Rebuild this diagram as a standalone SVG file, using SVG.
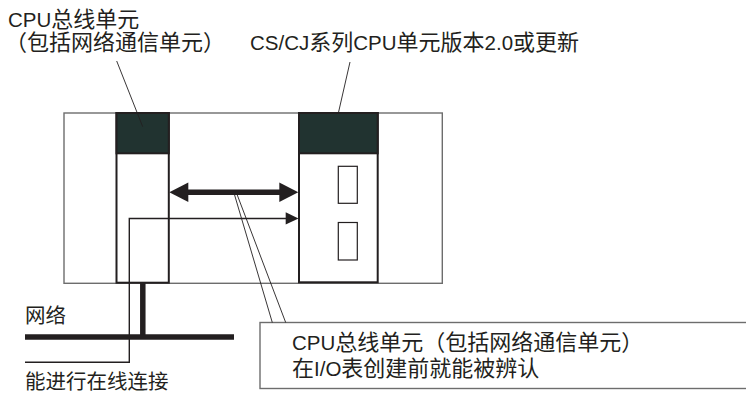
<svg xmlns="http://www.w3.org/2000/svg" width="746" height="393" viewBox="0 0 746 393">
<defs>
<style>
text{font-family:"Liberation Sans","Noto Sans CJK SC",sans-serif;font-size:20.5px;fill:#231f20}
.cj{font-size:22px}
.rack{fill:#fff;stroke:#6d6d6d;stroke-width:1.4}
.unit{fill:#fff;stroke:#231f20;stroke-width:2}
.hdr{fill:#213330;stroke:#231f20;stroke-width:2}
.slot{fill:#fff;stroke:#231f20;stroke-width:1.2}
.lead{fill:none;stroke:#231f20;stroke-width:0.9}
.thin{fill:none;stroke:#231f20;stroke-width:1.4}
.thick{fill:none;stroke:#231f20;stroke-width:5.5}
.head{fill:#231f20;stroke:none}
.box{fill:#fff;stroke:#6d6d6d;stroke-width:1.4}
</style>
</defs>
<rect width="746" height="393" fill="#fff"/>
<g id="rack">
<rect class="rack" x="64" y="113" width="378.3" height="170.3"/>
</g>
<g id="cpu-bus-unit">
<rect class="unit" x="116.5" y="113" width="52.3" height="169.7"/>
<rect class="hdr" x="116.5" y="113" width="52.3" height="40.3"/>
</g>
<g id="cpu-unit">
<rect class="unit" x="299" y="113" width="78.7" height="169.3"/>
<rect class="hdr" x="299" y="113" width="78.7" height="40.3"/>
<rect class="slot" x="338.3" y="166.3" width="19" height="37"/>
<rect class="slot" x="338.3" y="222.5" width="19" height="37.5"/>
</g>
<g id="info-box">
<rect class="box" x="260" y="322.5" width="500" height="66"/>
<text x="292" y="350">CPU<tspan class="cj">总线单元（包括网络通信单元）</tspan></text>
<text x="292" y="375.5"><tspan class="cj">在</tspan>I/O<tspan class="cj">表创建前就能被辨认</tspan></text>
</g>
<g id="labels">
<text x="8" y="27">CPU<tspan class="cj">总线单元</tspan></text>
<text x="5" y="50"><tspan class="cj">（包括网络通信单元）</tspan></text>
<text x="250" y="50">CS/CJ<tspan class="cj">系列</tspan>CPU<tspan class="cj">单元版本</tspan>2.0<tspan class="cj">或更新</tspan></text>
<text x="25" y="323">网络</text>
<text x="25" y="388.5">能进行在线连接</text>
</g>
<g id="connectors">
<line class="lead" x1="116.7" y1="61" x2="142.7" y2="126.7"/>
<line class="lead" x1="350" y1="62" x2="338.3" y2="113.3"/>
<line class="lead" x1="234" y1="193" x2="272.3" y2="322.5"/>
<line class="lead" x1="236.5" y1="193" x2="285.7" y2="322.5"/>
<line class="thick" x1="186" y1="192.3" x2="281" y2="192.3"/>
<polygon class="head" points="169.3,192.3 188.3,182.5 188.3,202"/>
<polygon class="head" points="298.3,192.3 279.3,182.5 279.3,202"/>
<polyline class="thin" points="25,362.3 129.3,362.3 129.3,218.5 287,218.5"/>
<polygon class="head" points="298.5,218.5 285.7,212.3 285.7,224.5"/>
<line class="thick" x1="142.8" y1="283" x2="142.8" y2="337"/>
<line class="thick" x1="25" y1="337" x2="234" y2="337"/>
</g>
</svg>
